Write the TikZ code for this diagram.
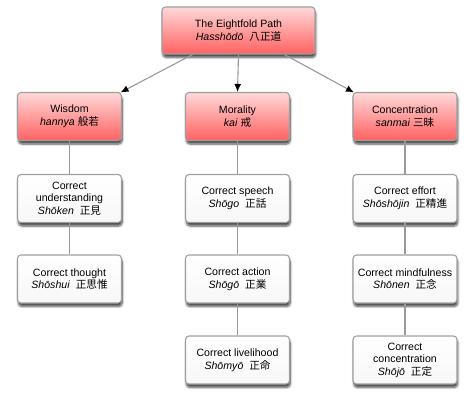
\documentclass[tikz,border=0pt]{standalone}
\usepackage{fontspec}
\setmainfont{Liberation Sans}
\newfontfamily\cjk{Noto Sans CJK JP}
\usetikzlibrary{arrows.meta,shadows.blur,calc}

\begin{document}
\begin{tikzpicture}[x=1pt,y=-1pt,
    box/.style={draw=gray!75, line width=1.1pt, rounded corners=3.5pt,
      minimum width=104pt, minimum height=48pt, inner sep=0pt, align=center,
      font=\fontsize{10.6}{12.6}\selectfont,
      blur shadow={shadow xshift=0.8pt, shadow yshift=-3.5pt, shadow blur steps=6, shadow opacity=70}},
    redbox/.style={box, top color=red!15, bottom color=red!62},
    whitebox/.style={box, top color=white, bottom color=gray!6},
    link/.style={draw=gray!80, line width=1.1pt},
    arr/.style={link, -{Latex[black, length=8pt, width=7pt]}}]

    \useasboundingbox (0,0) rectangle (474,404);

    \node[redbox, minimum width=153pt, minimum height=47pt] (PATH) at (238.5,30.5)
      {The Eightfold Path\\\textit{Hasshōdō}\ \ {\cjk 八正道}};

    \node[redbox] (WIS) at (69.5,116.5) {Wisdom\\\textit{hannya} {\cjk 般若}};
    \node[redbox] (MOR) at (237.5,116.5) {Morality\\\textit{kai} {\cjk 戒}};
    \node[redbox] (CON) at (405,116.5) {Concentration\\\textit{sanmai} {\cjk 三昧}};

    \node[whitebox] (W1) at (69.5,198.5) {Correct\\understanding\\\textit{Shōken}\ \ {\cjk 正見}};
    \node[whitebox] (W2) at (69.5,279) {Correct thought\\\textit{Shōshui}\ \ {\cjk 正思惟}};

    \node[whitebox] (M1) at (237.5,198.5) {Correct speech\\\textit{Shōgo}\ \ {\cjk 正話}};
    \node[whitebox] (M2) at (237.5,279) {Correct action\\\textit{Shōgō}\ \ {\cjk 正業}};
    \node[whitebox] (M3) at (237.5,360) {Correct livelihood\\\textit{Shōmyō}\ \ {\cjk 正命}};

    \node[whitebox] (C1) at (405,198.5) {Correct effort\\\textit{Shōshōjin}\ \ {\cjk 正精進}};
    \node[whitebox] (C2) at (405,279) {Correct mindfulness\\\textit{Shōnen}\ \ {\cjk 正念}};
    \node[whitebox] (C3) at (405,360) {Correct\\concentration\\\textit{Shōjō}\ \ {\cjk 正定}};

    \draw[arr] ($(PATH.south)+(-46,0)$) -- ($(WIS.north east)+(-1.5,0.5)$);
    \draw[arr] (PATH.south) -- (MOR.north);
    \draw[arr] ($(PATH.south)+(46,0)$) -- ($(CON.north west)+(1.5,0.5)$);

    \draw[link] (WIS.south) -- (W1.north);
    \draw[link] (W1.south) -- (W2.north);
    \draw[link] (MOR.south) -- (M1.north);
    \draw[link] (M1.south) -- (M2.north);
    \draw[link] (M2.south) -- (M3.north);
    \draw[link] (CON.south) -- (C1.north);
    \draw[link] (C1.south) -- (C2.north);
    \draw[link] (C2.south) -- (C3.north);
\end{tikzpicture}
\end{document}
